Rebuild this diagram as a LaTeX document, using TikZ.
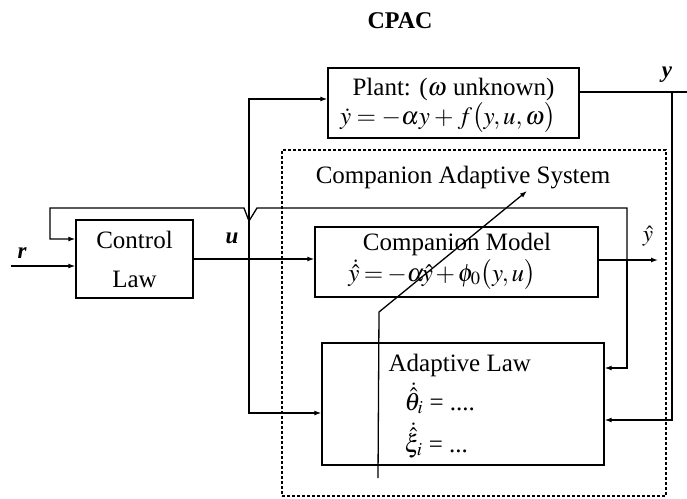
\documentclass[tikz,border=0pt]{standalone}
\usepackage{amsmath}
\usepackage{mathptmx}
\usepackage[no-math]{fontspec}
\setmainfont{Liberation Serif}
\usetikzlibrary{arrows.meta}
\begin{document}
\begin{tikzpicture}[x=1pt,y=-1pt,line width=1.3pt,
  box/.style={draw,line width=1.4pt,inner sep=0pt},
  txt/.style={font=\fontsize{25}{30}\selectfont,inner sep=0pt,anchor=base},
  txtl/.style={font=\fontsize{25}{30}\selectfont,inner sep=0pt,anchor=base west},
  lab/.style={font=\fontsize{23}{28}\selectfont\bfseries\itshape,inner sep=0pt,anchor=base},
  arr/.style={-{Latex[length=7pt,width=5pt]}},
  dotbox/.style={draw,line width=1.2pt,dash pattern=on 3pt off 2pt,inner sep=0pt}]
\useasboundingbox (0,0) rectangle (687,498);

% title
\node[txt,font=\fontsize{24}{28}\selectfont\bfseries] (title) at (400,28) {CPAC};

% boxes
\node[box,minimum width=251pt,minimum height=70pt] (plant) at (453.5,103) {};
\node[txt] (plantA) at (453.5,95) {Plant: ($\omega$ unknown)};
\node[txt] (plantB) at (448,124) {$\medmuskip=3mu\thickmuskip=4mu\dot y = -\alpha y + f\bigl(y,u,\omega\bigr)$};

\node[box,minimum width=117pt,minimum height=78pt] (cl) at (134.5,259) {};
\node[txt] (clA) at (134.5,248) {Control};
\node[txt] (clB) at (134.5,287) {Law};

\node[dotbox,minimum width=384pt,minimum height=346pt] (cas) at (474,323) {};
\node[txt] (casT) at (463,183) {Companion Adaptive System};

\node[box,minimum width=283pt,minimum height=70pt] (comp) at (456.5,262) {};
\node[txt] (compA) at (457,250) {Companion Model};
\node[txt] (compB) at (442,281) {$\medmuskip=2mu\thickmuskip=3mu\dot{\hat y} = -\alpha\!\hat y + \phi_0\bigl(y,u\bigr)$};

\node[box,minimum width=282pt,minimum height=122pt] (adapt) at (463,404) {};
\node[txtl] (adA) at (388,371) {Adaptive Law};
\node[txtl] (adB) at (404,410) {$\dot{\hat\theta}_i$ = ....};
\node[txtl] (adC) at (404,452) {$\dot{\hat\xi}_i$ = ...};

% labels
\node[lab] (rl) at (22,258) {r};
\node[lab] (ul) at (232,243) {u};
\node[lab] (yl) at (667,77) {y};
\node[lab] (yhl) at (648,241) {$\boldsymbol{\hat y}$};

% coordinates
\coordinate (rin) at (11,266);
\coordinate (uj) at (249,259);
\coordinate (jy) at (627,260);
\coordinate (yhend) at (658,260);
\coordinate (yend) at (687,92);
\coordinate (yj) at (672,92);
\coordinate (adjs) at (378,478);
\coordinate (adjk) at (379,312);
\coordinate (adjt) at (527,191);

% connectors
\draw[arr] (rin) -- (cl.west |- rin);
\draw[arr] (cl.east |- uj) -- (comp.west |- uj);
\draw[arr] (uj) -- (249,99) -- (plant.west |- 0,99);
\draw[arr] (uj) -- (249,413) -- (adapt.west |- 0,413);
\draw[arr] (comp.east |- jy) -- (yhend);
\draw[arr] (jy) -- (627,208) -- (257,208) -- (249,221) -- (244,208) -- (50,208) -- (50,239) -- (cl.west |- 0,239);
\draw[arr] (jy) -- (627,368) -- (adapt.east |- 0,368);
\draw (plant.east |- yend) -- (yend);
\draw[arr] (yj) -- (672,420) -- (adapt.east |- 0,420);
\draw[arr] (adjs) -- (adjk) -- (adjt);
\end{tikzpicture}
\end{document}
